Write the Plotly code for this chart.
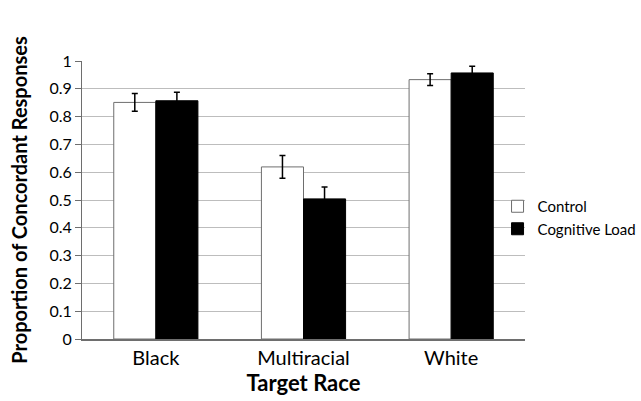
import plotly.graph_objects as go

categories = ["Black", "Multiracial", "White"]
control = [0.851, 0.619, 0.933]
control_err = [0.032, 0.041, 0.021]
cogload = [0.857, 0.504, 0.957]
cogload_err = [0.031, 0.043, 0.024]
yticks = [0, 0.1, 0.2, 0.3, 0.4, 0.5, 0.6, 0.7, 0.8, 0.9, 1]
ytick_labels = ["0", "0.1", "0.2", "0.3", "0.4", "0.5", "0.6", "0.7", "0.8", "0.9", "1"]

FONT = "Lato"

fig = go.Figure()
fig.add_trace(go.Bar(
    x=categories, y=control, name="Control",
    marker=dict(color="white", line=dict(color="#6e6e6e", width=1)),
    error_y=dict(type="data", array=control_err, color="black", thickness=1.5, width=3),
))
fig.add_trace(go.Bar(
    x=categories, y=cogload, name="Cognitive Load",
    marker=dict(color="black", line=dict(color="black", width=1)),
    error_y=dict(type="data", array=cogload_err, color="black", thickness=1.5, width=3),
))

fig.update_layout(
    width=641, height=401,
    margin=dict(l=82, r=116, t=61, b=62, autoexpand=False),
    paper_bgcolor="white", plot_bgcolor="white",
    barmode="group", bargap=0.43, bargroupgap=0,
    font=dict(family=FONT, color="black"),
    showlegend=True,
    legend=dict(x=0.938, y=0.437, xanchor="left", yanchor="middle",
                font=dict(size=15, family=FONT, color="black"),
                bgcolor="rgba(0,0,0,0)", itemwidth=30),
    xaxis=dict(
        showline=True, linecolor="#6e6e6e", linewidth=1.5,
        ticks="", tickfont=dict(size=20, family=FONT),
        automargin=False,
        title=dict(text="<b>Target Race</b>", font=dict(size=22, family=FONT), standoff=4),
    ),
    yaxis=dict(
        range=[0, 1], tickvals=yticks, ticktext=ytick_labels,
        showgrid=True, gridcolor="#bdbdbd", gridwidth=1,
        showline=True, linecolor="#6e6e6e", linewidth=1,
        ticks="outside", ticklen=6, tickcolor="#6e6e6e",
        tickfont=dict(size=16, family=FONT),
        zeroline=False, automargin=False,
        title=dict(text="<b>Proportion of Concordant Responses</b>", font=dict(size=20, family=FONT), standoff=16),
    ),
)

fig.write_html("out.html", config={"displayModeBar": False},
               post_script="document.body.style.margin='0';")
